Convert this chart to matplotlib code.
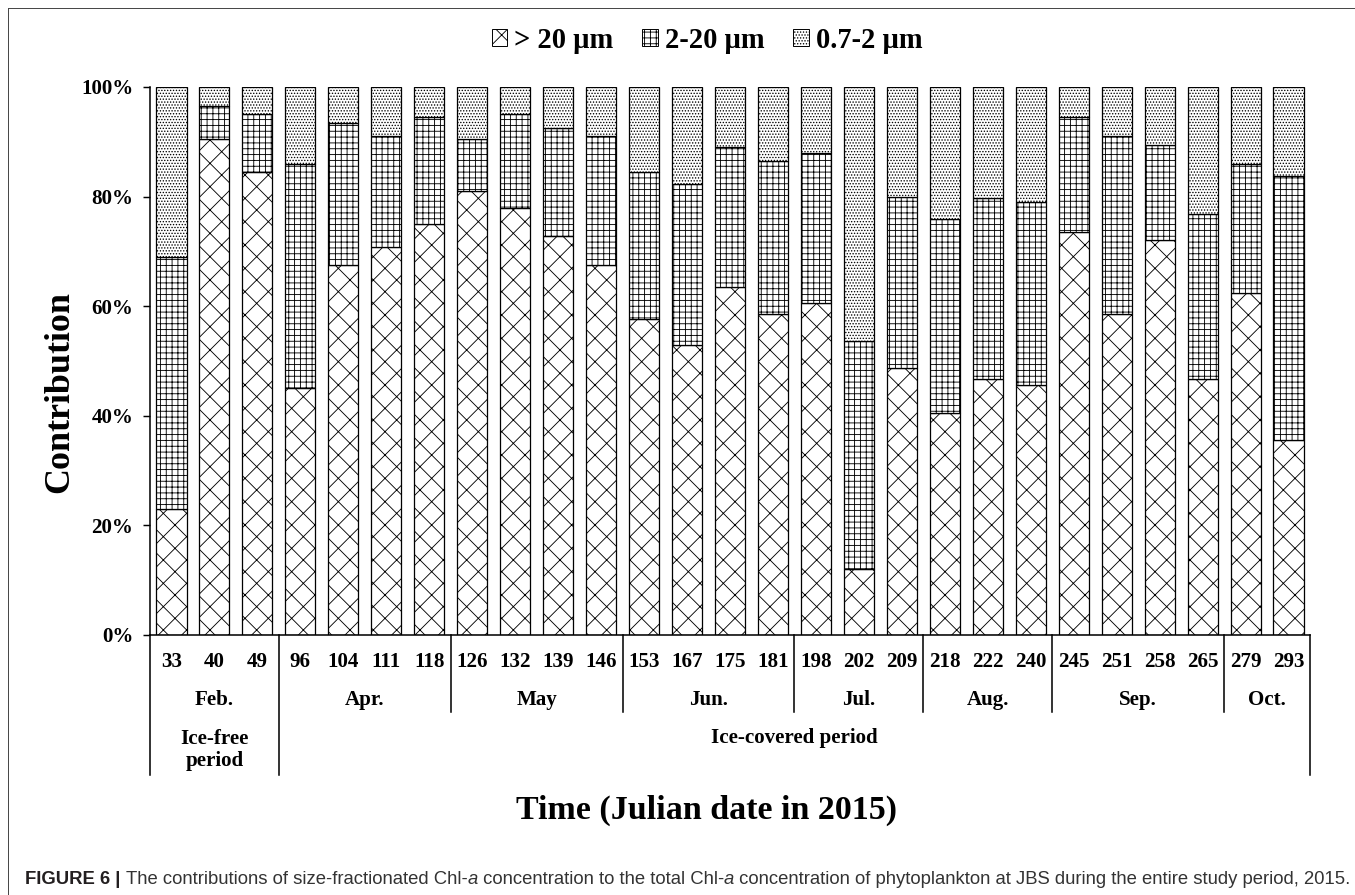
import numpy as np
import matplotlib

matplotlib.use("Agg")
import matplotlib.pyplot as plt
from matplotlib.patches import Patch
from matplotlib.lines import Line2D
from matplotlib.transforms import blended_transform_factory

# Julian dates sampled in 2015
days = [33, 40, 49, 96, 104, 111, 118, 126, 132, 139, 146, 153, 167, 175,
        181, 198, 202, 209, 218, 222, 240, 245, 251, 258, 265, 279, 293]
# contribution (%) of each size fraction
frac_gt20 = [23, 90.5, 84.5, 45, 67.5, 70.8, 75, 81, 78, 72.8, 67.5, 57.7,
             53, 63.5, 58.5, 60.5, 12, 48.7, 40.5, 46.7, 45.7, 73.5, 58.5,
             72, 46.7, 62.5, 35.5]
frac_2_20 = [46, 6, 10.5, 41, 26, 20.2, 19.5, 9.5, 17, 19.7, 23.5, 26.8,
             29.3, 25.5, 28, 27.5, 41.7, 31.3, 35.5, 33, 33.3, 21, 32.5,
             17.5, 30.1, 23.5, 48.2]
frac_07_2 = [31, 3.5, 5, 14, 6.5, 9, 5.5, 9.5, 5, 7.5, 9, 15.5, 17.7, 11,
             13.5, 12, 46.3, 20, 24, 20.3, 21, 5.5, 9, 10.5, 23.2, 14, 16.3]

months = ["Feb.", "Apr.", "May", "Jun.", "Jul.", "Aug.", "Sep.", "Oct."]
month_counts = [3, 4, 4, 4, 3, 3, 4, 2]
periods = ["Ice-free\nperiod", "Ice-covered period"]
period_counts = [3, 24]

labels = ["> 20 \u00b5m", "2-20 \u00b5m", "0.7-2 \u00b5m"]
hatches = ["x", "++", "...."]

DPI = 70
plt.rcParams["font.family"] = ["Liberation Serif", "DejaVu Serif"]
plt.rcParams["font.weight"] = "bold"
plt.rcParams["hatch.linewidth"] = 0.9
plt.rcParams["hatch.color"] = "black"


def pt(px):
    return px * 72.0 / DPI


def fy(py):
    return 1 - py / 895


fig = plt.figure(figsize=(1355 / DPI, 895 / DPI), dpi=DPI)
ax = fig.add_axes([150 / 1355, 1 - 635 / 895, 1160 / 1355, 548 / 895])

x = np.arange(len(days))
bottom = np.zeros(len(days))
for vals, h in zip([frac_gt20, frac_2_20, frac_07_2], hatches):
    ax.bar(x, vals, 0.7, bottom=bottom, color="white", edgecolor="black",
           hatch=h, linewidth=1.3)
    bottom += np.array(vals)

ax.set_xlim(-0.5, len(days) - 0.5)
ax.set_ylim(0, 100)
ax.set_yticks(np.arange(0, 101, 20))
ax.set_yticklabels([f"{v}%" for v in range(0, 101, 20)])
ax.tick_params(axis="y", direction="out", length=7, width=1.5,
               labelsize=pt(21), pad=10)
ax.set_xticks([])
for s in ["top", "right"]:
    ax.spines[s].set_visible(False)
for s in ["left", "bottom"]:
    ax.spines[s].set_linewidth(1.6)
ax.set_ylabel("Contribution", fontsize=pt(36), fontweight="bold")
ax.yaxis.set_label_coords(-0.064, 0.443)

# category table below the bars
tr = blended_transform_factory(ax.transData, fig.transFigure)

for i, d in enumerate(days):
    fig.text(i, fy(662), str(d), transform=tr, ha="center", va="center",
             fontsize=pt(21))

start = 0
for m, n in zip(months, month_counts):
    fig.text(start + (n - 1) / 2, fy(700), m, transform=tr, ha="center",
             va="center", fontsize=pt(21))
    start += n

month_edges = np.cumsum([0] + month_counts) - 0.5
period_edges = np.cumsum([0] + period_counts) - 0.5
for e in month_edges:
    long = np.any(np.isclose(e, period_edges))
    yb = fy(775) if long else fy(712)
    fig.add_artist(Line2D([e, e], [fy(635), yb], transform=tr,
                          color="black", lw=1.6, clip_on=False))

fig.text(1, fy(750), periods[0], transform=tr, ha="center", va="center",
         fontsize=pt(21), linespacing=1.1)
fig.text(14.5, fy(738), periods[1], transform=tr, ha="center", va="center",
         fontsize=pt(21))

fig.text(706 / 1355, fy(819), "Time (Julian date in 2015)", ha="center",
         va="baseline", fontsize=pt(34))

# legend on top
handles = [Patch(facecolor="white", edgecolor="black", hatch=h, lw=1.0)
           for h in hatches]
fig.legend(handles, labels, loc="center", bbox_to_anchor=(707 / 1355, fy(40)),
           ncol=3, frameon=False, fontsize=pt(28.5), handlelength=0.55,
           handleheight=0.55, handletextpad=0.25, columnspacing=1.0)

# caption, built from pieces so that "a" can be italic
sans = ["Liberation Sans", "DejaVu Sans"]
cap_px = 18.5
pieces = [
    ("FIGURE 6 | ", "bold", "normal", "#231f20"),
    ("The contributions of size-fractionated Chl-", "normal", "normal", "#333333"),
    ("a", "normal", "italic", "#333333"),
    (" concentration to the total Chl-", "normal", "normal", "#333333"),
    ("a", "normal", "italic", "#333333"),
    (" concentration of phytoplankton at JBS during the entire study period, 2015.",
     "normal", "normal", "#333333"),
]
prev = None
for txt, w, st, c in pieces:
    if prev is None:
        prev = fig.text(25 / 1355, fy(884), txt, ha="left", va="baseline",
                        fontsize=pt(cap_px), family=sans, weight=w,
                        style=st, color=c)
    else:
        prev = ax.annotate(txt, xy=(1, 0), xycoords=prev, ha="left",
                           va="bottom", fontsize=pt(cap_px), family=sans,
                           weight=w, style=st, color=c,
                           annotation_clip=False)

# frame lines around the figure panel
fig.add_artist(Line2D([8 / 1355, 8 / 1355], [fy(8), 0.0],
                      transform=fig.transFigure, color="#444444", lw=1.0))
fig.add_artist(Line2D([8 / 1355, 1.0], [fy(8), fy(8)],
                      transform=fig.transFigure, color="#444444", lw=1.0))

fig.savefig("out.png", dpi=DPI)
